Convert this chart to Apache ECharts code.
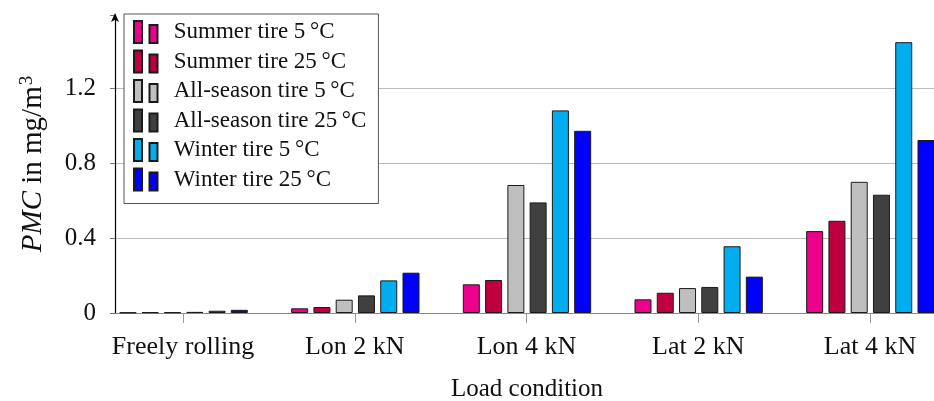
<!DOCTYPE html>
<html>
<head>
<meta charset="utf-8">
<script src="https://cdn.jsdelivr.net/npm/echarts@6/dist/echarts.min.js"></script>
<style>html,body{margin:0;padding:0;background:#fff}#c{width:934px;height:401px}</style>
</head>
<body>
<div id="c"></div>
<script>
const categories = ['Freely rolling', 'Lon 2 kN', 'Lon 4 kN', 'Lat 2 kN', 'Lat 4 kN'];
const seriesNames = ['Summer tire 5\u2009°C', 'Summer tire 25\u2009°C', 'All-season tire 5\u2009°C', 'All-season tire 25\u2009°C', 'Winter tire 5\u2009°C', 'Winter tire 25\u2009°C'];
const summer5 = [0.003, 0.025, 0.153, 0.073, 0.437];
const summer25 = [0.004, 0.032, 0.176, 0.108, 0.492];
const allseason5 = [0.004, 0.071, 0.683, 0.133, 0.700];
const allseason25 = [0.006, 0.094, 0.590, 0.139, 0.631];
const winter5 = [0.012, 0.174, 1.081, 0.356, 1.445];
const winter25 = [0.017, 0.215, 0.972, 0.194, 0.923];
const yTicks = [0, 0.4, 0.8, 1.2];

const colors = ['#EC008C', '#BE0041', '#BFBFBF', '#404040', '#00AEEF', '#0000FF'];
const values = [summer5, summer25, allseason5, allseason25, winter5, winter25];
const FONT = 'Liberation Serif';
const TXT = '#111';

const chart = echarts.init(document.getElementById('c'), null, {renderer: 'canvas'});
const series = values.map((vals, i) => ({
  name: seriesNames[i],
  type: 'bar',
  xAxisIndex: 0, yAxisIndex: 0,
  data: vals.map((v, j) => [j, v]),
  barWidth: 17,
  barGap: '31%',
  itemStyle: {color: colors[i], borderColor: '#1a1a1a', borderWidth: 1},
  emphasis: {disabled: true},
  animation: false
}));

chart.setOption({
  animation: false,
  grid: [
    {left: 115, right: -5, top: 15, bottom: 88, containLabel: false, outerBoundsMode: 'none'},
    {left: 183, right: 64, top: 15, bottom: 88, containLabel: false, outerBoundsMode: 'none'}
  ],
  legend: {
    orient: 'vertical',
    left: 124, top: 14,
    padding: [6, 12, 12, 9],
    itemWidth: 24, itemHeight: 22, itemGap: 5.5,
    icon: 'path://M0,0h8v22h-8z M15.5,4h8v18h-8z',
    borderColor: '#555', borderWidth: 1,
    backgroundColor: '#fff',
    textStyle: {fontFamily: FONT, fontSize: 23, lineHeight: 22, color: TXT, padding: [0, 0, 0, 11]},
    selectedMode: false,
    data: seriesNames
  },
  xAxis: [
    {
      type: 'value', gridIndex: 0,
      min: -0.4, max: 4.4, interval: 1,
      name: 'Load condition',
      nameLocation: 'middle',
      nameGap: 64,
      nameTextStyle: {fontFamily: FONT, fontSize: 25, color: TXT},
      axisLine: {show: true, onZero: false, lineStyle: {color: '#888', width: 1}},
      axisTick: {show: false},
      axisLabel: {show: false},
      splitLine: {show: false}
    },
    {
      type: 'category', gridIndex: 1,
      data: categories,
      boundaryGap: false,
      axisLine: {show: false},
      axisTick: {show: true, length: 10, interval: 0, lineStyle: {color: '#999'}},
      axisLabel: {fontFamily: FONT, fontSize: 26, color: TXT, margin: 21, interval: 0},
      splitLine: {show: false}
    }
  ],
  yAxis: [
    {
      type: 'value', gridIndex: 0,
      min: 0, max: 1.59, interval: 0.4,
      name: '{i|PMC} in mg/m{s|3}',
      nameLocation: 'middle',
      nameGap: 66,
      nameRotate: 90,
      nameTextStyle: {
        fontFamily: FONT, fontSize: 29, color: TXT,
        rich: {
          i: {fontFamily: FONT, fontSize: 29, fontStyle: 'italic', color: TXT},
          s: {fontFamily: FONT, fontSize: 19, color: TXT, verticalAlign: 'top', padding: [0, 0, 12, 1]}
        }
      },
      axisLine: {show: true, onZero: false, symbol: ['none', 'arrow'], symbolSize: [6, 9], symbolOffset: [0, 2], lineStyle: {color: '#000', width: 1.2}},
      axisTick: {show: true, inside: false, length: 5, lineStyle: {color: '#777'}},
      axisLabel: {
        fontFamily: FONT, fontSize: 25, color: TXT, margin: 19,
        formatter: v => { const t = yTicks.find(x => Math.abs(x - v) < 1e-6); return t === undefined ? '' : (t === 0 ? '0' : t.toFixed(1)); }
      },
      splitLine: {show: true, showMaxLine: false, lineStyle: {color: '#bbb', width: 1}}
    },
    {
      type: 'value', gridIndex: 1, min: 0, max: 1.59, show: false
    }
  ],
  series: series
});
</script>
</body>
</html>
